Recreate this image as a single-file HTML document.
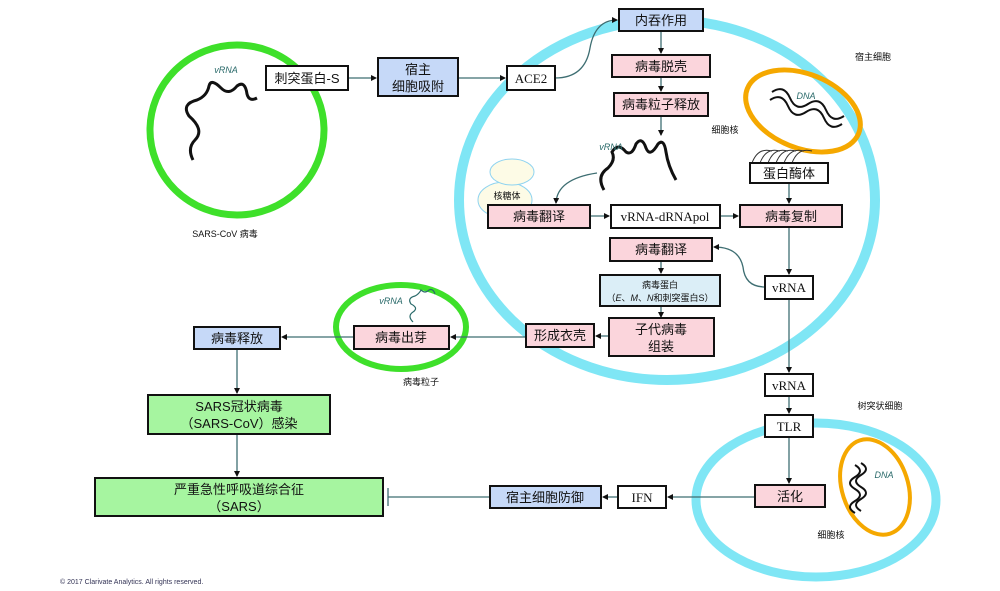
<!DOCTYPE html>
<html><head><meta charset="utf-8"><style>
html,body{margin:0;padding:0;background:#fff;}
svg{display:block;}
.b{stroke:#111;stroke-width:2;}
.t{font-family:"Liberation Sans","Noto Sans CJK SC",sans-serif;font-size:13px;fill:#111;text-anchor:middle;}
.s{font-family:"Liberation Sans","Noto Sans CJK SC",sans-serif;font-size:9px;fill:#111;text-anchor:middle;}
.v{font-family:"Liberation Sans",sans-serif;font-size:9px;font-style:italic;fill:#2a6a6a;text-anchor:middle;}
.r{font-family:"Liberation Serif","Noto Serif CJK SC",serif;font-size:13px;fill:#111;text-anchor:middle;}
.l{stroke:#3e6e72;stroke-width:1.3;fill:none;}
</style></head><body>
<svg width="1000" height="591" viewBox="0 0 1000 591" xmlns="http://www.w3.org/2000/svg">
<defs><marker id="a" markerWidth="6" markerHeight="6" refX="5" refY="3" orient="auto" markerUnits="userSpaceOnUse"><path d="M0,0 L6,3 L0,6z" fill="#111"/></marker></defs>
<rect width="1000" height="591" fill="#fff"/>
<!-- cells -->
<ellipse cx="667" cy="200" rx="208" ry="180" fill="none" stroke="#7fe6f5" stroke-width="10"/>
<ellipse cx="816" cy="500" rx="120" ry="77" fill="none" stroke="#7fe6f5" stroke-width="9"/>
<ellipse cx="237" cy="130" rx="87" ry="85" fill="none" stroke="#3ee02a" stroke-width="7"/>
<ellipse cx="401" cy="327" rx="65" ry="42" fill="none" stroke="#3ee02a" stroke-width="6"/>
<ellipse cx="803" cy="111" rx="60" ry="37" transform="rotate(22 803 111)" fill="none" stroke="#f5a800" stroke-width="5"/>
<ellipse cx="875" cy="487" rx="33" ry="49" transform="rotate(-18 875 487)" fill="none" stroke="#f5a800" stroke-width="4"/>
<!-- ribosome -->
<ellipse cx="505" cy="200" rx="27" ry="18" fill="#fdfbe6" stroke="#8fd3f0" stroke-width="1"/>
<ellipse cx="512" cy="172" rx="22" ry="13" fill="#fdfbe6" stroke="#8fd3f0" stroke-width="1"/>
<!-- proteasome arcs -->
<g fill="none" stroke="#333" stroke-width="1">
<path d="M752,163 q6,-16 20,-12"/><path d="M760,163 q6,-16 20,-12"/><path d="M768,163 q6,-16 20,-12"/><path d="M776,163 q6,-16 20,-12"/><path d="M784,163 q6,-16 20,-12"/><path d="M792,163 q6,-16 20,-12"/>
</g>
<!-- squiggles -->
<path d="M193,160 q-6,-12 2,-20 q10,-10 -6,-24 q-8,-12 8,-16 q10,-4 12,-14 q2,-8 12,2 q8,8 16,-2 q8,-6 10,8 q2,8 10,4" fill="none" stroke="#111" stroke-width="3"/>
<path d="M604,190 q-8,-14 4,-22 q8,-8 4,-16 q6,-10 14,0 q6,4 10,-8 q6,-8 10,4 q4,10 12,-4 q6,-6 8,8 q2,14 10,28" fill="none" stroke="#111" stroke-width="3"/>
<path d="M413,322 q-6,-6 0,-10 q6,-4 -2,-8 q-4,-6 4,-8 q4,-2 6,-6 q4,4 8,0 q4,-2 6,4" fill="none" stroke="#2a6a6a" stroke-width="1.2"/>
<g fill="none" stroke="#111" stroke-width="2">
<path d="M770,100 q12,-8 18,6 t18,6 t18,6 t18,6"/><path d="M772,92 q12,-8 18,6 t18,6 t18,6 t18,6"/>
<path d="M855,465 q10,6 0,12 t0,12 t0,12 t0,12"/><path d="M861,463 q10,6 0,12 t0,12 t0,12 t0,12"/>
</g>
<text class="v" x="226" y="73">vRNA</text><text class="v" x="611" y="150">vRNA</text><text class="v" x="391" y="304">vRNA</text>
<text class="v" x="806" y="99">DNA</text><text class="v" x="884" y="478">DNA</text>
<!-- connectors -->
<g class="l">
<line x1="348" y1="78" x2="376" y2="78" marker-end="url(#a)"/>
<line x1="458" y1="78" x2="505" y2="78" marker-end="url(#a)"/>
<path d="M555,78 q30,0 35,-30 q5,-28 27,-28" marker-end="url(#a)"/>
<line x1="661" y1="31" x2="661" y2="53" marker-end="url(#a)"/>
<line x1="661" y1="77" x2="661" y2="91" marker-end="url(#a)"/>
<line x1="661" y1="116" x2="661" y2="135" marker-end="url(#a)"/>
<path d="M597,173 q-40,6 -41,30" marker-end="url(#a)"/>
<line x1="590" y1="216" x2="609" y2="216" marker-end="url(#a)"/>
<line x1="720" y1="216" x2="738" y2="216" marker-end="url(#a)"/>
<line x1="789" y1="183" x2="789" y2="203" marker-end="url(#a)"/>
<line x1="789" y1="227" x2="789" y2="274" marker-end="url(#a)"/>
<path d="M765,287 q-20,0 -22,-20 q-4,-20 -29,-20" marker-end="url(#a)"/>
<line x1="661" y1="261" x2="661" y2="273" marker-end="url(#a)"/>
<line x1="661" y1="306" x2="661" y2="317" marker-end="url(#a)"/>
<line x1="609" y1="336" x2="596" y2="336" marker-end="url(#a)"/>
<line x1="526" y1="337" x2="451" y2="337" marker-end="url(#a)"/>
<line x1="354" y1="337" x2="282" y2="337" marker-end="url(#a)"/>
<line x1="237" y1="349" x2="237" y2="393" marker-end="url(#a)"/>
<line x1="237" y1="434" x2="237" y2="476" marker-end="url(#a)"/>
<line x1="789" y1="299" x2="789" y2="372" marker-end="url(#a)"/>
<line x1="789" y1="396" x2="789" y2="413" marker-end="url(#a)"/>
<line x1="789" y1="437" x2="789" y2="483" marker-end="url(#a)"/>
<line x1="755" y1="497" x2="668" y2="497" marker-end="url(#a)"/>
<line x1="618" y1="497" x2="603" y2="497" marker-end="url(#a)"/>
<line x1="490" y1="497" x2="388" y2="497"/>
<line x1="388" y1="488" x2="388" y2="506"/>
</g>
<!-- boxes -->
<g class="b">
<rect x="266" y="66" width="82" height="24" fill="#fff"/>
<rect x="378" y="58" width="80" height="38" fill="#c6d9f8"/>
<rect x="507" y="66" width="48" height="24" fill="#fff"/>
<rect x="619" y="9" width="84" height="22" fill="#c6d9f8"/>
<rect x="612" y="55" width="98" height="22" fill="#fbd5dc"/>
<rect x="614" y="93" width="94" height="23" fill="#fbd5dc"/>
<rect x="750" y="163" width="78" height="20" fill="#fff"/>
<rect x="488" y="205" width="102" height="23" fill="#fbd5dc"/>
<rect x="611" y="205" width="109" height="23" fill="#fff"/>
<rect x="740" y="205" width="102" height="22" fill="#fbd5dc"/>
<rect x="610" y="238" width="102" height="23" fill="#fbd5dc"/>
<rect x="600" y="275" width="120" height="31" fill="#dbeef7"/>
<rect x="765" y="276" width="48" height="23" fill="#fff"/>
<rect x="609" y="318" width="105" height="38" fill="#fbd5dc"/>
<rect x="526" y="324" width="68" height="23" fill="#fbd5dc"/>
<rect x="354" y="326" width="95" height="23" fill="#fbd5dc"/>
<rect x="194" y="327" width="86" height="22" fill="#c6d9f8"/>
<rect x="148" y="395" width="182" height="39" fill="#a6f5a0"/>
<rect x="95" y="478" width="288" height="38" fill="#a6f5a0"/>
<rect x="490" y="486" width="111" height="22" fill="#c6d9f8"/>
<rect x="618" y="486" width="48" height="22" fill="#fff"/>
<rect x="755" y="485" width="70" height="22" fill="#fbd5dc"/>
<rect x="765" y="374" width="48" height="22" fill="#fff"/>
<rect x="765" y="415" width="48" height="22" fill="#fff"/>
</g>
<!-- labels -->
<text class="t" x="307" y="83">刺突蛋白-S</text>
<text class="t" x="418" y="74">宿主</text><text class="t" x="418" y="91">细胞吸附</text>
<text class="r" x="531" y="83">ACE2</text>
<text class="t" x="661" y="25">内吞作用</text>
<text class="t" x="661" y="71">病毒脱壳</text>
<text class="t" x="661" y="109">病毒粒子释放</text>
<text class="t" x="789" y="178">蛋白酶体</text>
<text class="t" x="539" y="221">病毒翻译</text>
<text class="r" x="665" y="221">vRNA-dRNApol</text>
<text class="t" x="791" y="221">病毒复制</text>
<text class="t" x="661" y="254">病毒翻译</text>
<text class="s" x="660" y="288">病毒蛋白</text>
<text class="s" x="660" y="301">（<tspan font-style="italic">E</tspan>、<tspan font-style="italic">M</tspan>、<tspan font-style="italic">N</tspan>和刺突蛋白S）</text>
<text class="r" x="789" y="292">vRNA</text>
<text class="t" x="661" y="334">子代病毒</text><text class="t" x="661" y="351">组装</text>
<text class="t" x="560" y="340">形成衣壳</text>
<text class="t" x="401" y="342">病毒出芽</text>
<text class="t" x="237" y="343">病毒释放</text>
<text class="t" x="239" y="411">SARS冠状病毒</text><text class="t" x="239" y="428">（SARS-CoV）感染</text>
<text class="t" x="239" y="494">严重急性呼吸道综合征</text><text class="t" x="239" y="511">（SARS）</text>
<text class="t" x="545" y="502">宿主细胞防御</text>
<text class="r" x="642" y="502">IFN</text>
<text class="t" x="790" y="501">活化</text>
<text class="r" x="789" y="390">vRNA</text>
<text class="r" x="789" y="431">TLR</text>
<text class="s" x="507" y="199">核糖体</text>
<text class="s" x="873" y="60">宿主细胞</text>
<text class="s" x="725" y="133">细胞核</text>
<text class="s" x="225" y="237">SARS-CoV 病毒</text>
<text class="s" x="421" y="385">病毒粒子</text>
<text class="s" x="880" y="409">树突状细胞</text>
<text class="s" x="831" y="538">细胞核</text>
<text x="60" y="584" font-family="Liberation Sans,sans-serif" font-size="7" fill="#335">© 2017 Clarivate Analytics.  All rights reserved.</text>
</svg>
</body></html>
